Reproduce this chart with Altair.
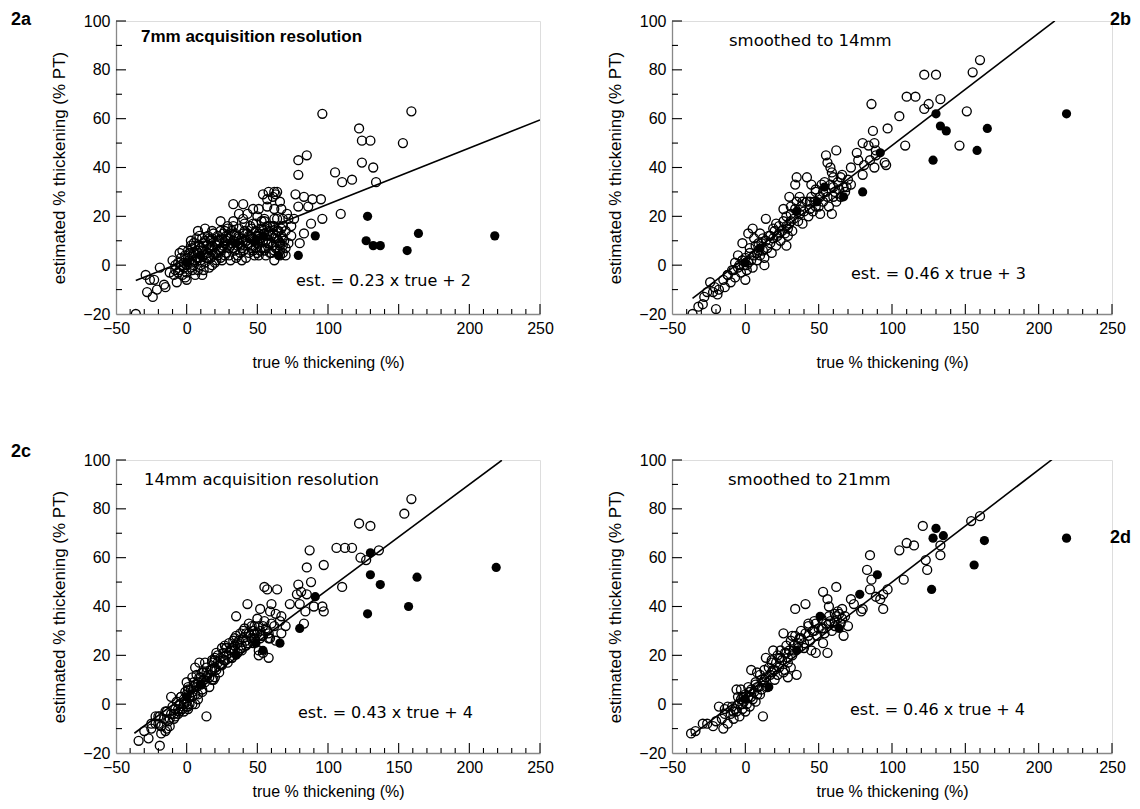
import altair as alt
import pandas as pd

FONT = "DejaVu Sans"
X_TICKS = [-50, 0, 50, 100, 150, 200, 250]
Y_TICKS = [-20, 0, 20, 40, 60, 80, 100]

# ---------------- panel 2a ----------------
A_OPEN = [
    (96, 62), (159, 63), (122, 56), (124, 51), (130, 51), (153, 50), (124, 42), (132, 40), (134, 34),
    (105, 38), (110, 34), (117, 35), (109, 21), (79, 43), (85, 45), (79, 37), (77, 29), (83, 28), (89, 27),
    (95, 27), (79, 24), (86, 24), (96, 19), (88, 17), (83, 13), (80, 9),
    (54, 29), (58, 30), (62, 30), (64, 30), (57, 27), (61, 28), (63, 29), (66, 26), (33, 25), (40, 25), (47, 23),
    (51, 23), (57, 24), (62, 23), (67, 23), (71, 21), (37, 21), (43, 21), (50, 20), (55, 19), (62, 19), (64, 19),
    (68, 19), (72, 19), (76, 19), (33, 18), (40, 19), (47, 17), (53, 18), (61, 16), (68, 16), (74, 16), (24, 18), (29, 16),
    (8, 14), (13, 15), (18, 14), (24, 14), (29, 15), (3, 10), (16, 11), (22, 12), (28, 10), (34, 12), (40, 13),
    (45, 11), (50, 12), (56, 10), (62, 11), (66, 9), (-5, 5), (4, 7), (12, 8), (18, 8), (25, 7), (31, 8), (37, 9), (43, 8),
    (49, 7), (55, 6), (60, 5), (66, 6), (70, 4),
    (-29, -4), (-23, -6), (-19, -1), (-16, -8), (-26, -6), (-15, -9), (-21, -10), (-28, -11), (-24, -13), (-36, -20),
    (-7, -7), (0, -6), (11, -4), (18, 0),
    (-12, -3), (-10, 2), (-9, -4), (-8, 0), (-6, 1), (-5, -2), (-4, 3), (-3, -4), (-2, 1), (-1, 4), (0, 0), (0, -3),
    (1, 6), (2, 2), (3, -1), (4, 4), (5, 9), (5, 0), (6, 2), (7, 6), (8, -2), (9, 3), (10, 7), (10, 0), (11, 11),
    (12, 4), (13, 1), (14, 8), (15, 5), (16, -1), (17, 3), (17, 10), (18, 6), (19, 13), (20, 1), (21, 8), (22, 4),
    (23, 10), (24, 6), (25, 2), (26, 13), (27, 9), (28, 5), (29, 11), (30, 7), (31, 2), (32, 14), (33, 10), (34, 6),
    (35, 12), (36, 4), (37, 15), (38, 8), (39, 11), (40, 6), (41, 17), (42, 10), (43, 13), (44, 5), (45, 8), (46, 15),
    (47, 11), (48, 4), (49, 17), (50, 9), (51, 13), (52, 6), (53, 15), (54, 10), (55, 18), (56, 7), (57, 12), (58, 14),
    (59, 5), (60, 9), (61, 13), (62, 16), (63, 7), (64, 11), (65, 14), (66, 8), (67, 12), (68, 5), (69, 10), (70, 14),
    (72, 9), (74, 12),
    (1, 3), (3, 1), (5, 5), (7, 3), (9, 8), (11, 6), (13, 10), (15, 3), (17, 7), (19, 4), (21, 10), (23, 6), (25, 11),
    (27, 4), (29, 8), (31, 12), (33, 7), (35, 3), (37, 11), (39, 7), (41, 14), (43, 9), (45, 12), (47, 6), (49, 14),
    (51, 10), (53, 7), (55, 13), (57, 9), (59, 16), (61, 8), (63, 12), (65, 10), (67, 15), (3, 8), (7, 11), (-2, -1),
    (-6, -3), (-3, 6), (12, -2), (15, 12), (21, 2), (27, 14), (33, 16), (39, 2), (45, 16), (51, 4), (57, 16), (62, 2),
    (68, 8),
    (2, 5), (4, -2), (6, 8), (8, 5), (10, 2), (12, 9), (14, 3), (16, 7), (18, 11), (20, 5), (22, 9), (24, 3), (26, 8),
    (28, 12), (30, 4), (32, 9), (34, 13), (36, 8), (38, 5), (40, 10), (42, 3), (44, 12), (46, 7), (48, 10), (50, 5),
    (52, 11), (54, 14), (56, 4), (58, 9), (60, 12), (62, 6), (64, 14), (66, 4), (68, 11), (70, 7), (-4, 0), (-8, -2),
    (-1, -5), (6, -4), (9, 12),
]
A_FILLED = [(65, 4), (79, 4), (91, 12), (128, 20), (127, 10), (132, 8), (137, 8), (156, 6), (164, 13),
            (218, 12), (54, 12), (49, 10), (35, 9), (10, 4), (0, 1)]

# ---------------- panel 2b ----------------
B_OPEN = [
    (160, 84), (155, 79), (122, 78), (130, 78), (110, 69), (116, 69), (105, 61), (122, 64), (125, 66), (133, 68),
    (151, 63), (146, 49), (109, 49), (86, 66), (87, 55), (97, 56), (76, 46), (80, 50), (84, 49), (88, 50), (89, 47),
    (77, 43), (81, 41), (85, 43), (89, 45), (88, 40), (95, 42), (96, 41), (80, 37), (72, 40), (62, 47), (55, 45),
    (56, 42), (58, 40), (59, 38), (60, 36),
    (54, 34), (60, 32), (65, 36), (67, 32), (69, 32), (45, 33), (48, 31), (53, 30), (56, 28), (59, 21), (51, 21),
    (35, 36), (42, 36), (34, 33), (30, 28), (37, 28), (44, 26), (48, 24), (62, 26), (65, 28),
    (26, 23), (31, 24), (35, 26), (39, 26), (14, 19), (21, 17), (28, 16), (31, 18), (19, 15), (23, 13), (29, 12),
    (5, 15), (10, 13), (12, 11), (17, 12), (28, 8), (2, 13), (6, 11), (9, 9), (-2, 9), (3, 7), (8, 5), (13, 0),
    (-5, 4), (-2, 2), (1, 0), (-7, 1), (-8, -2), (-12, -4), (0, -6),
    (-24, -7), (-21, -9), (-18, -10), (-14, -9), (-19, -12), (-22, -11), (-26, -11), (-29, -16), (-36, -20),
    (-20, -18), (-32, -17), (-28, -13),
    (-15, -6), (-12, -4), (-10, -7), (-9, -2), (-7, -5), (-5, -1), (-4, 0), (-3, -3), (-2, 2), (-1, 0), (0, 3),
    (1, -2), (2, 1), (3, 5), (4, 2), (5, -1), (6, 4), (7, 8), (8, 2), (9, 6), (10, 4), (11, 9), (12, 6), (13, 3),
    (14, 10), (15, 7), (16, 12), (17, 9), (18, 5), (19, 11), (20, 14), (21, 8), (22, 12), (23, 16), (24, 10),
    (25, 14), (26, 18), (27, 13), (28, 20), (29, 15), (30, 17), (31, 21), (32, 14), (33, 19), (34, 23), (36, 18),
    (37, 21), (38, 24), (39, 17), (40, 22), (42, 26), (43, 20), (44, 23), (45, 28), (46, 22), (47, 26), (48, 30),
    (50, 24), (51, 28), (52, 33), (53, 26), (55, 30), (57, 24), (58, 33), (60, 28), (61, 30), (63, 34), (64, 31),
    (66, 37), (68, 30), (70, 35), (72, 33),
]
B_FILLED = [(130, 62), (133, 57), (137, 55), (128, 43), (158, 47), (165, 56), (92, 46), (80, 30), (67, 28),
            (54, 32), (49, 26), (219, 62), (35, 22), (10, 7), (0, 1)]

# ---------------- panel 2c ----------------
C_OPEN = [
    (159, 84), (154, 78), (122, 74), (130, 73), (106, 64), (112, 64), (117, 64), (123, 60), (127, 59), (136, 63),
    (87, 63), (85, 56), (97, 57), (110, 48), (79, 49), (88, 50), (78, 45), (85, 45), (81, 46), (96, 40), (97, 38),
    (90, 40), (84, 38), (73, 41), (80, 41), (83, 33), (55, 48), (57, 47), (64, 47), (60, 41), (59, 38), (63, 37),
    (67, 36), (66, 34), (70, 32), (67, 29), (43, 41), (35, 36), (52, 39), (41, 31), (46, 32), (51, 32), (54, 32),
    (48, 29), (53, 28), (58, 27), (63, 26), (42, 26), (47, 25), (51, 22), (54, 21), (58, 19), (51, 20),
    (39, 22), (34, 22), (32, 19), (27, 18), (25, 23), (28, 23), (31, 22),
    (20, 19), (18, 17), (13, 17), (9, 17), (6, 15), (4, 11), (0, 9), (7, 12), (11, 13), (14, 11), (18, 10), (20, 11),
    (21, 14), (5, 7), (1, 6), (0, 4), (8, 4), (11, 6), (4, 3), (-4, 3), (-2, 0), (1, -1), (6, 0), (-6, -2), (-9, -4),
    (-11, 3), (14, -5), (-15, -3), (-19, -5), (-22, -5), (-25, -8), (-20, -8), (-18, -9), (-15, -11),
    (-34, -15), (-27, -14), (-19, -17), (-18, -12), (-14, -10), (-12, -9), (-25, -10), (-30, -11),
    (-22, -8), (-20, -5), (-18, -9), (-16, -6), (-14, -3), (-13, -7), (-11, -4), (-10, -1), (-9, -6), (-8, -2),
    (-7, 1), (-6, -4), (-5, 0), (-4, 3), (-3, -2), (-2, 2), (-1, 5), (0, 1), (1, -2), (1, 7), (2, 3), (3, 6),
    (4, 0), (5, 9), (6, 4), (7, 7), (8, 2), (9, 11), (10, 8), (11, 5), (12, 13), (13, 9), (14, 15), (15, 12),
    (16, 7), (17, 14), (18, 18), (19, 10), (20, 15), (21, 21), (22, 17), (23, 13), (24, 19), (25, 16), (26, 21),
    (27, 24), (28, 20), (29, 17), (30, 25), (31, 22), (32, 19), (33, 26), (34, 24), (35, 28), (36, 21), (37, 26),
    (38, 29), (39, 24), (40, 27), (42, 29), (43, 25), (44, 33), (45, 28), (47, 30), (48, 27), (50, 35), (52, 30),
    (54, 28), (56, 31), (58, 29), (60, 33),
    (-12, -6), (-8, -5), (-5, -3), (-2, -3), (0, -1), (2, 0), (4, 5), (6, 8), (8, 9), (10, 11), (12, 10), (14, 13),
    (16, 11), (18, 14), (20, 18), (22, 20), (24, 16), (26, 18), (28, 23), (30, 21), (32, 23), (34, 27), (36, 25),
    (38, 23), (40, 30), (42, 24), (44, 29), (46, 27), (48, 32), (50, 29), (52, 27), (55, 34), (57, 30), (59, 27),
    (62, 32),
]
C_FILLED = [(219, 56), (130, 53), (137, 49), (163, 52), (157, 40), (128, 37), (130, 62), (91, 44), (80, 31),
            (66, 25), (54, 22), (49, 25), (35, 20), (10, 8), (0, 3)]

# ---------------- panel 2d ----------------
D_OPEN = [
    (160, 77), (154, 75), (121, 73), (105, 63), (110, 66), (115, 65), (133, 65), (133, 61), (123, 59), (124, 55),
    (108, 51), (85, 61), (83, 55), (86, 51), (85, 47), (89, 44), (94, 45), (97, 47), (94, 39), (92, 43),
    (72, 43), (74, 41), (80, 39), (79, 38), (62, 48), (53, 46), (56, 43), (57, 40), (61, 37), (64, 37), (66, 35),
    (67, 28), (34, 39), (41, 41), (43, 33), (47, 30), (52, 31), (57, 33), (61, 32),
    (26, 29), (32, 28), (36, 25), (40, 23), (45, 22), (48, 21), (53, 25), (56, 21),
    (19, 22), (24, 19), (29, 17), (31, 15), (35, 12), (29, 11), (14, 19), (18, 17), (20, 14), (22, 12), (27, 14),
    (4, 14), (8, 13), (11, 10), (7, 8), (2, 7), (-3, 6), (-5, 3), (-1, 3), (-6, 6), (-2, 3), (4, 3), (7, 1), (10, 4),
    (12, -5), (-12, -1), (-8, -3), (-14, -4), (-18, -1), (-20, -7), (-26, -8), (-22, -9), (-29, -8), (-15, -10),
    (-37, -12), (-34, -11),
    (-16, -6), (-14, -2), (-12, -8), (-10, -4), (-9, -1), (-8, -6), (-6, -3), (-5, 0), (-4, -5), (-3, 2), (-2, -2),
    (-1, 1), (0, -3), (0, 4), (1, 0), (2, 3), (3, -1), (4, 6), (5, 2), (6, 5), (7, 9), (8, 4), (9, 7), (10, 12),
    (11, 6), (12, 9), (13, 14), (14, 11), (15, 7), (16, 15), (17, 12), (18, 18), (19, 14), (20, 10), (21, 17),
    (22, 20), (23, 15), (24, 22), (25, 18), (26, 13), (27, 21), (28, 24), (29, 19), (30, 22), (31, 26), (32, 20),
    (33, 24), (34, 28), (36, 23), (37, 27), (38, 30), (40, 25), (41, 29), (43, 32), (44, 26), (46, 30), (47, 34),
    (49, 28), (50, 31), (52, 35), (54, 29), (55, 33), (57, 36), (59, 30), (61, 34), (63, 38), (65, 33), (68, 36),
    (70, 32),
    (-7, -2), (-2, 0), (3, 5), (8, 7), (13, 10), (18, 13), (23, 19), (28, 21), (33, 22), (38, 27), (43, 28), (48, 33),
    (53, 31), (58, 34), (62, 36), (66, 39),
]
D_FILLED = [(130, 72), (128, 68), (135, 69), (163, 67), (156, 57), (127, 47), (90, 53), (78, 45), (51, 36),
            (64, 31), (16, 7), (219, 68), (35, 22), (0, 2)]

# regression lines: slope, intercept, x start, x end
SLOPES = [0.23, 0.46, 0.43, 0.46]
INTERCEPTS = [2, 3, 4, 4]
LINE_X0 = [-36, -36, -37, -37]
LINE_X1 = [250, 211, 223, 209]

HEADINGS = ["7mm acquisition resolution", "smoothed to 14mm", "14mm acquisition resolution", "smoothed to 21mm"]
EQUATIONS = ["est. = 0.23 x true + 2", "est. = 0.46 x true + 3", "est. = 0.43 x true + 4", "est. = 0.46 x true + 4"]
TAGS = ["2a", "2b", "2c", "2d"]

H = 293


def panel(i, open_pts, filled_pts, width, hide150, head_xy, head_bold, eq_xy, tag_xy, xtitle_pad):
    xs = alt.Scale(domain=[-50, 250], nice=False, zero=False)
    ys = alt.Scale(domain=[-20, 100], nice=False, zero=False)
    label_expr = "datum.value == 150 ? '' : datum.label" if hide150 else "datum.label"
    xaxis = alt.Axis(values=X_TICKS, title="true % thickening (%)", labelExpr=label_expr,
                     ticks=False, grid=False, labelPadding=6, titlePadding=xtitle_pad, labelFlush=False,
                     labelOverlap=False, labelFontSize=16, titleFontSize=16, titleFontWeight="normal",
                     domainWidth=1.3)
    yaxis = alt.Axis(values=Y_TICKS, title="estimated % thickening (% PT)",
                     ticks=False, grid=False, labelPadding=6, titlePadding=14, labelFlush=False,
                     labelOverlap=False, labelFontSize=16, titleFontSize=17, titleFontWeight="normal",
                     domainWidth=1.3)
    xe = alt.X("x:Q", scale=xs, axis=xaxis)
    ye = alt.Y("y:Q", scale=ys, axis=yaxis)

    df_open = pd.DataFrame(open_pts, columns=["x", "y"])
    df_fill = pd.DataFrame(filled_pts, columns=["x", "y"])

    opens = alt.Chart(df_open).mark_point(shape="circle", filled=False, size=80, strokeWidth=1.35,
                                          color="black", opacity=1, clip=True).encode(x=xe, y=ye)
    fills = alt.Chart(df_fill).mark_circle(size=85, color="black", opacity=1).encode(x=xe, y=ye)

    lx = [LINE_X0[i], LINE_X1[i]]
    df_line = pd.DataFrame({"x": lx, "y": [SLOPES[i] * v + INTERCEPTS[i] for v in lx]})
    line = alt.Chart(df_line).mark_line(color="black", strokeWidth=1.6, clip=True).encode(x=xe, y=ye)

    # inward tick marks
    ux = 300.0 / width
    uy = 120.0 / H
    xt = pd.DataFrame({"x": list(range(-40, 251, 10))})
    xt["y"] = -20.0
    xt["y2"] = [-20.0 + (10 if v % 50 == 0 else 5) * uy for v in xt["x"]]
    yt = pd.DataFrame({"y": list(range(-10, 101, 10))})
    yt["x"] = -50.0
    yt["x2"] = [-50.0 + (10 if v % 20 == 0 else 6) * ux for v in yt["y"]]
    xticks = alt.Chart(xt).mark_rule(color="black", strokeWidth=1.1).encode(x=xe, y=ye, y2="y2")
    yticks = alt.Chart(yt).mark_rule(color="black", strokeWidth=1.1).encode(x=xe, x2="x2", y=ye)

    head = alt.Chart(pd.DataFrame({"t": [HEADINGS[i]]})).mark_text(
        align="left", baseline="middle", fontSize=17 if head_bold else 16.5,
        font="Liberation Sans" if head_bold else FONT,
        fontWeight="bold" if head_bold else "normal", color="black"
    ).encode(x=alt.value(head_xy[0]), y=alt.value(head_xy[1]), text="t:N")
    eq = alt.Chart(pd.DataFrame({"t": [EQUATIONS[i]]})).mark_text(
        align="left", baseline="middle", fontSize=16, font=FONT, color="black"
    ).encode(x=alt.value(eq_xy[0]), y=alt.value(eq_xy[1]), text="t:N")
    tag = alt.Chart(pd.DataFrame({"t": [TAGS[i]]})).mark_text(
        align="left", baseline="middle", fontSize=18, font="Liberation Sans", fontWeight="bold", color="black"
    ).encode(x=alt.value(tag_xy[0]), y=alt.value(tag_xy[1]), text="t:N")

    return alt.layer(xticks, yticks, line, opens, fills, head, eq, tag).properties(width=width, height=H)


pa = panel(0, A_OPEN, A_FILLED, 424, True, (25, 16), True, (180, 260), (-105, -1), 18)
pb = panel(1, B_OPEN, B_FILLED, 440, False, (57, 20), False, (179, 253), (438, -1), 18)
pc = panel(2, C_OPEN, C_FILLED, 424, False, (28, 20), False, (182, 253), (-105, -8), 8)
pd_ = panel(3, D_OPEN, D_FILLED, 440, False, (56, 20), False, (178, 250), (438, 78), 8)

chart = alt.vconcat(
    alt.hconcat(pa, pb, spacing=52),
    alt.hconcat(pc, pd_, spacing=52),
    spacing=71,
).properties(
    padding={"left": 2, "top": 2, "right": 0, "bottom": 0}
).configure_view(stroke=None).configure_axis(
    labelFont=FONT, titleFont=FONT, labelColor="black", titleColor="black",
    domainColor="black", titleFontWeight="normal"
).configure(background="white")

chart.save("out.html", embed_options={"renderer": "svg", "actions": False})
